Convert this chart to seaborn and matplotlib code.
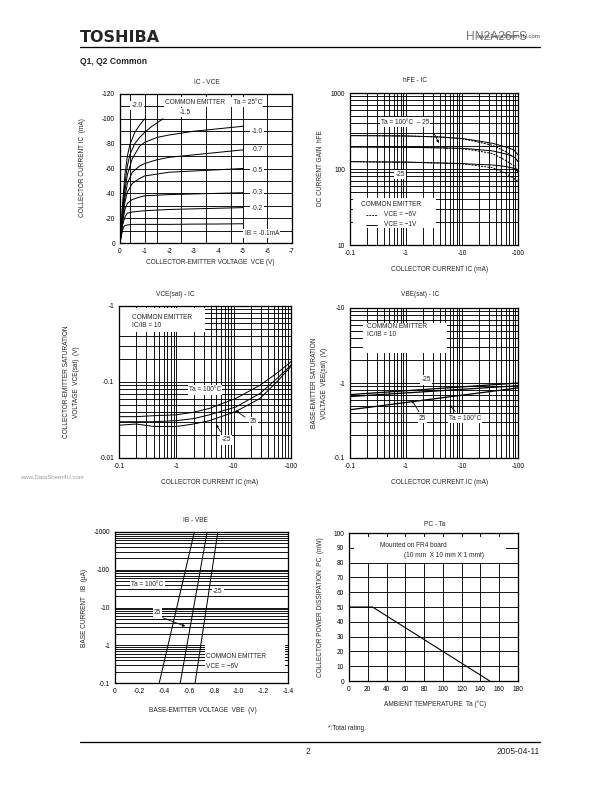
import numpy as np
import pandas as pd
import matplotlib.pyplot as plt
import matplotlib.ticker as mticker
from matplotlib.patches import Rectangle
import seaborn as sns

sns.set_style('white')
plt.rcParams['font.family'] = ['Liberation Sans', 'DejaVu Sans']
plt.rcParams['axes.unicode_minus'] = False

# ---- IC - VCE (magnitudes: V, mA) ----
vce_ib20 = [0, 0.05, 0.1, 0.2, 0.3, 0.4, 0.6, 0.8, 1.0]
ic_ib20 = [0, 15, 30, 55, 70, 79, 89, 95, 100]
vce_ib15 = [0, 0.05, 0.1, 0.2, 0.3, 0.4, 0.6, 0.8, 1.0, 1.3, 1.75]
ic_ib15 = [0, 13, 27, 48, 62, 71, 80, 85, 89, 94, 100]
vce_ib10 = [0, 0.05, 0.1, 0.2, 0.3, 0.5, 0.8, 1, 1.5, 2, 3, 4, 5]
ic_ib10 = [0, 12, 24, 42, 55, 68, 78, 81, 85, 87, 90, 92, 94]
vce_ib07 = [0, 0.05, 0.1, 0.2, 0.3, 0.5, 0.8, 1, 1.5, 2, 3, 4, 5]
ic_ib07 = [0, 11, 21, 37, 48, 57, 62, 64, 67, 69, 71, 73, 75]
vce_ib05 = [0, 0.05, 0.1, 0.2, 0.3, 0.5, 0.8, 1, 1.5, 2, 3, 4, 5]
ic_ib05 = [0, 10, 19, 33, 41, 48, 52, 54, 55.5, 57, 58, 59, 60]
vce_ib03 = [0, 0.05, 0.1, 0.2, 0.3, 0.5, 0.8, 1, 2, 3, 4, 5]
ic_ib03 = [0, 8, 16, 27, 32, 35, 37, 38, 39, 39.5, 40, 40.5]
vce_ib02 = [0, 0.05, 0.1, 0.2, 0.3, 0.5, 1, 2, 3, 4, 5]
ic_ib02 = [0, 7, 14, 21, 24, 25, 26, 27, 27.5, 28, 28.5]
vce_ib01 = [0, 0.05, 0.1, 0.15, 0.2, 0.3, 0.5, 1, 2, 3, 4, 5]
ic_ib01 = [0, 5, 10, 13, 14, 14.5, 15, 15, 15, 15.2, 15.3, 15.5]

# ---- hFE - IC (IC mA) ----
ic_hfe = [0.1, 0.3, 1, 4, 10, 15, 35, 60, 85, 100]
hfe_100_1v = [275, 274, 272, 264, 252, 241, 218, 195, 178, 153]
hfe_100_6v = [275, 274, 272, 264, 250, 236, 205, 170, 142, 128]
hfe_25_1v = [195, 194, 193, 190, 187, 183, 173, 158, 145, 125]
hfe_25_6v = [195, 194, 193, 190, 185, 178, 160, 130, 110, 95]
hfe_m25_1v = [125, 124, 123, 120, 118, 116, 113, 108, 102, 92]
hfe_m25_6v = [125, 124, 123, 120, 117, 113, 104, 88, 75, 68]

# ---- VCE(sat) - IC ----
ic_sat = [0.1, 0.2, 0.4, 1, 2, 3.8, 11, 29, 60, 100]
vcesat_100 = [0.035, 0.035, 0.036, 0.037, 0.040, 0.045, 0.061, 0.091, 0.135, 0.185]
vcesat_25 = [0.030, 0.030, 0.030, 0.031, 0.033, 0.037, 0.047, 0.071, 0.115, 0.167]
vcesat_m25 = [0.027, 0.028, 0.026, 0.026, 0.028, 0.031, 0.041, 0.061, 0.105, 0.160]

# ---- VBE(sat) - IC ----
ic_vbe = [0.1, 100]
vbesat_m25 = [0.70, 1.00]
vbesat_25 = [0.66, 0.92]
vbesat_100 = [0.44, 0.86]

# ---- IB - VBE (V, uA) ----
ib_points = [0.1, 1000]
vbe_100 = [0.358, 0.642]
vbe_25 = [0.528, 0.745]
vbe_m25 = [0.648, 0.832]

# ---- PC - Ta ----
ta = [0, 25, 150]
pc = [50, 50, 0]

fig = plt.figure(figsize=(8.5, 11), dpi=72)
W, H = 612, 792
FS = 6.5


def add_ax(x0, y0, x1, y1):
    ax = fig.add_axes([x0 / W, 1 - y1 / H, (x1 - x0) / W, (y1 - y0) / H])
    for s in ax.spines.values():
        s.set_linewidth(1.3)
        s.set_color('black')
    ax.tick_params(which='both', length=0, labelsize=FS, pad=5, colors='black')
    return ax


def ftext(x, y, s, **kw):
    kw.setdefault('fontsize', FS)
    kw.setdefault('ha', 'center')
    kw.setdefault('va', 'center')
    fig.text(x / W, 1 - y / H, s, **kw)


def curve(ax, x, y, ls='-', lw=1.0):
    d = pd.DataFrame({'x': x, 'y': y})
    sns.lineplot(data=d, x='x', y='y', ax=ax, color='black', lw=lw,
                 linestyle=ls, sort=False, estimator=None, legend=False)
    ax.set_xlabel('')
    ax.set_ylabel('')


def label(ax, x, y, s, **kw):
    kw.setdefault('fontsize', FS)
    kw.setdefault('ha', 'center')
    kw.setdefault('va', 'center')
    ax.text(x, y, s, bbox=dict(facecolor='white', edgecolor='none', pad=1.2),
            zorder=4, **kw)


def arrow(ax, x0, y0, x1, y1):
    ax.annotate('', xy=(x1, y1), xytext=(x0, y0),
                arrowprops=dict(arrowstyle='-|>', color='black', lw=0.8,
                                mutation_scale=5), zorder=5)


def log_grid(ax, xlog=True, ylog=True):
    if xlog:
        ax.xaxis.set_minor_locator(mticker.LogLocator(base=10, subs=np.arange(2, 10)))
    if ylog:
        ax.yaxis.set_minor_locator(mticker.LogLocator(base=10, subs=np.arange(2, 10)))
    ax.grid(which='both', color='black', lw=0.9)
    ax.set_axisbelow(True)


# header / footer
ftext(80, 38, 'TOSHIBA', fontsize=16, fontweight='heavy', ha='left',
      family=['DejaVu Sans'])
fig.add_artist(plt.Line2D([80 / W, 540 / W], [1 - 47 / H, 1 - 47 / H], color='black', lw=1.3))
ftext(466, 37, 'HN2A26FS', fontsize=12, ha='left', color='#777777')
ftext(540, 37, 'www.DataSheet4U.com', fontsize=6, ha='right', color='#444444')
ftext(80, 62, 'Q1, Q2 Common', fontsize=8.5, fontweight='bold', ha='left')
fig.add_artist(plt.Line2D([80 / W, 540 / W], [1 - 742 / H, 1 - 742 / H], color='black', lw=1.3))
ftext(308, 752, '2', fontsize=8.5)
ftext(540, 752, '2005-04-11', fontsize=8.5, ha='right')
ftext(20, 478, 'www.DataSheet4U.com', fontsize=6, ha='left', color='#999999')

# ---------- IC - VCE ----------
ax1 = add_ax(120, 94, 292, 243)
for vx, iy in [(vce_ib20, ic_ib20), (vce_ib15, ic_ib15), (vce_ib10, ic_ib10),
               (vce_ib07, ic_ib07), (vce_ib05, ic_ib05), (vce_ib03, ic_ib03),
               (vce_ib02, ic_ib02), (vce_ib01, ic_ib01)]:
    curve(ax1, vx, iy)
ax1.set_xlim(0, 7)
ax1.set_ylim(0, 120)
ax1.set_xticks(range(0, 8))
ax1.set_xticklabels(['0'] + ['-%d' % v for v in range(1, 8)])
ax1.set_yticks(range(0, 121, 20))
ax1.set_yticklabels(['0'] + ['-%d' % v for v in range(20, 121, 20)])
for gx in [0.4, 1, 1.5, 2.5, 3.5, 4.5, 5, 6]:
    ax1.axvline(gx, color='black', lw=0.9, zorder=0.5)
for gy in range(10, 120, 10):
    ax1.axhline(gy, color='black', lw=0.9, zorder=0.5)
label(ax1, 3.8, 113.5, 'COMMON EMITTER     Ta = 25°C')
label(ax1, 0.7, 110.5, '-2.0')
label(ax1, 2.66, 105, '-1.5')
for yy, s in [(90, '-1.0'), (75, '-0.7'), (58, '-0.5'), (40.5, '-0.3'), (28, '-0.2')]:
    label(ax1, 5.57, yy, s)
label(ax1, 5.77, 7.5, 'IB = -0.1mA')
ftext(207, 82, 'IC - VCE')
ftext(83, 168, 'COLLECTOR CURRENT IC  (mA)', rotation=90)
ftext(210, 263, 'COLLECTOR-EMITTER VOLTAGE  VCE (V)')

# ---------- hFE - IC ----------
ax2 = add_ax(350, 93, 518, 245)
ax2.set_xscale('log')
ax2.set_yscale('log')
for hy in [hfe_100_1v, hfe_25_1v, hfe_m25_1v]:
    curve(ax2, ic_hfe, hy)
for hy in [hfe_100_6v, hfe_25_6v, hfe_m25_6v]:
    curve(ax2, ic_hfe, hy, ls=(0, (2, 1.2)))
ax2.set_xlim(0.1, 100)
ax2.set_ylim(10, 1000)
log_grid(ax2)
ax2.set_xticks([0.1, 1, 10, 100])
ax2.set_xticklabels(['-0.1', '-1', '-10', '-100'])
ax2.set_yticks([10, 100, 1000])
ax2.set_yticklabels(['10', '100', '1000'])
ax2.add_patch(Rectangle((0.02, 0.11), 0.49, 0.2, transform=ax2.transAxes,
                        facecolor='white', edgecolor='none', zorder=2.5))
label(ax2, 0.96, 415, 'Ta = 100°C  \u2012 25')
arrow(ax2, 3.06, 312, 4.0, 208)
label(ax2, 0.78, 84, '-25')
ax2.text(0.16, 33.7, 'COMMON EMITTER', fontsize=FS, va='center', zorder=4)
ax2.plot([0.19, 0.3], [24.9, 24.9], color='black', lw=0.9, ls=(0, (2, 1.2)), zorder=4)
ax2.plot([0.19, 0.3], [18.4, 18.4], color='black', lw=0.9, zorder=4)
ax2.text(0.4, 24.9, 'VCE = \u22126V', fontsize=FS, va='center', zorder=4)
ax2.text(0.4, 18.4, 'VCE = \u22121V', fontsize=FS, va='center', zorder=4)
ftext(415, 81, 'hFE - IC')
ftext(320, 168, 'DC CURRENT GAIN  hFE', rotation=90)
ftext(440, 270, 'COLLECTOR CURRENT IC (mA)')

# ---------- VCE(sat) - IC ----------
ax3 = add_ax(119, 306, 291, 458)
ax3.set_xscale('log')
ax3.set_yscale('log')
for vy in [vcesat_100, vcesat_25, vcesat_m25]:
    curve(ax3, ic_sat, vy)
ax3.set_xlim(0.1, 100)
ax3.set_ylim(0.01, 1)
log_grid(ax3)
ax3.set_xticks([0.1, 1, 10, 100])
ax3.set_xticklabels(['-0.1', '-1', '-10', '-100'])
ax3.set_yticks([0.01, 0.1, 1])
ax3.set_yticklabels(['-0.01', '-0.1', '-1'])
ax3.add_patch(Rectangle((0.0, 0.83), 0.5, 0.16, transform=ax3.transAxes,
                        facecolor='white', edgecolor='none', zorder=2.5))
ax3.text(0.166, 0.71, 'COMMON EMITTER', fontsize=FS, va='center', zorder=4)
ax3.text(0.166, 0.55, 'IC/IB = 10', fontsize=FS, va='center', zorder=4)
label(ax3, 3.16, 0.0785, 'Ta = 100°C')
label(ax3, 22, 0.030, '25')
arrow(ax3, 16.9, 0.0333, 10.1, 0.0437)
label(ax3, 7.35, 0.0173, '-25')
arrow(ax3, 6.2, 0.0211, 4.7, 0.029)
ftext(175, 295, 'VCE(sat) - IC')
ftext(67, 382, 'COLLECTOR-EMITTER SATURATION', rotation=90)
ftext(77, 382, 'VOLTAGE  VCE(sat)  (V)', rotation=90)
ftext(210, 482, 'COLLECTOR CURRENT IC (mA)')

# ---------- VBE(sat) - IC ----------
ax4 = add_ax(350, 308, 518, 458)
ax4.set_xscale('log')
ax4.set_yscale('log')
for vy in [vbesat_m25, vbesat_25, vbesat_100]:
    curve(ax4, ic_vbe, vy, lw=1.3)
ax4.set_xlim(0.1, 100)
ax4.set_ylim(0.1, 10)
log_grid(ax4)
ax4.set_xticks([0.1, 1, 10, 100])
ax4.set_xticklabels(['-0.1', '-1', '-10', '-100'])
ax4.set_yticks([0.1, 1, 10])
ax4.set_yticklabels(['-0.1', '-1', '-10'])
ax4.add_patch(Rectangle((0.08, 0.7), 0.5, 0.2, transform=ax4.transAxes,
                        facecolor='white', edgecolor='none', zorder=2.5))
ax4.text(0.2, 5.64, 'COMMON EMITTER', fontsize=FS, va='center', zorder=4)
ax4.text(0.2, 4.37, 'IC/IB = 10', fontsize=FS, va='center', zorder=4)
label(ax4, 2.28, 1.1, '-25')
label(ax4, 1.96, 0.338, '25')
arrow(ax4, 1.78, 0.394, 1.21, 0.625)
label(ax4, 11.3, 0.338, 'Ta = 100°C')
arrow(ax4, 8.0, 0.394, 5.7, 0.536)
ftext(420, 295, 'VBE(sat) - IC')
ftext(315, 383, 'BASE-EMITTER SATURATION', rotation=90)
ftext(325, 383, 'VOLTAGE  VBE(sat)  (V)', rotation=90)
ftext(440, 482, 'COLLECTOR CURRENT IC (mA)')

# ---------- IB - VBE ----------
ax5 = add_ax(115, 532, 288, 683)
ax5.set_yscale('log')
for vx in [vbe_100, vbe_25, vbe_m25]:
    curve(ax5, vx, ib_points)
ax5.set_xlim(0, 1.4)
ax5.set_ylim(0.1, 1000)
ax5.yaxis.set_minor_locator(mticker.LogLocator(base=10, subs=np.arange(2, 10)))
ax5.grid(which='both', axis='y', color='black', lw=0.9)
ax5.set_axisbelow(True)
ax5.set_xticks(np.arange(0, 1.41, 0.2))
ax5.set_xticklabels(['0'] + ['-%.1f' % v for v in np.arange(0.2, 1.41, 0.2)])
ax5.set_yticks([0.1, 1, 10, 100, 1000])
ax5.set_yticklabels(['-0.1', '-1', '-10', '-100', '-1000'])
label(ax5, 0.263, 40, 'Ta = 100°C')
label(ax5, 0.832, 27, '-25')
label(ax5, 0.344, 7.3, '25')
arrow(ax5, 0.371, 5.6, 0.583, 3.04)
ax5.add_patch(Rectangle((0.52, 0.09), 0.46, 0.2, transform=ax5.transAxes,
                        facecolor='white', edgecolor='none', zorder=2.5))
ax5.text(0.737, 0.49, 'COMMON EMITTER', fontsize=FS, va='center', zorder=4)
ax5.text(0.737, 0.28, 'VCE = \u22126V', fontsize=FS, va='center', zorder=4)
ftext(195, 521, 'IB - VBE')
ftext(85, 608, 'BASE CURRENT   IB  (μA)', rotation=90)
ftext(203, 710, 'BASE-EMITTER VOLTAGE  VBE  (V)')

# ---------- PC - Ta ----------
ax6 = add_ax(349, 533, 518, 681)
curve(ax6, ta, pc, lw=1.1)
ax6.set_xlim(0, 180)
ax6.set_ylim(0, 100)
ax6.set_xticks(range(0, 181, 20))
ax6.set_yticks(range(0, 101, 10))
ax6.grid(which='major', color='black', lw=0.9)
ax6.set_axisbelow(True)
ax6.add_patch(Rectangle((0.03, 0.8), 0.9, 0.17, transform=ax6.transAxes,
                        facecolor='white', edgecolor='none', zorder=2.5))
ax6.text(32.7, 91.4, 'Mounted on FR4 board', fontsize=FS, va='center', zorder=4)
ax6.text(58.6, 84.6, '(10 mm  X 10 mm X 1 mmt)', fontsize=FS, va='center', zorder=4)
ftext(435, 525, 'PC - Ta')
ftext(320, 607, 'COLLECTOR POWER DISSIPATION  PC  (mW)', rotation=90)
ftext(435, 704, 'AMBIENT TEMPERATURE  Ta (°C)')
ftext(328, 728, '*:Total rating.', ha='left')

fig.savefig('out.png', dpi=72)
